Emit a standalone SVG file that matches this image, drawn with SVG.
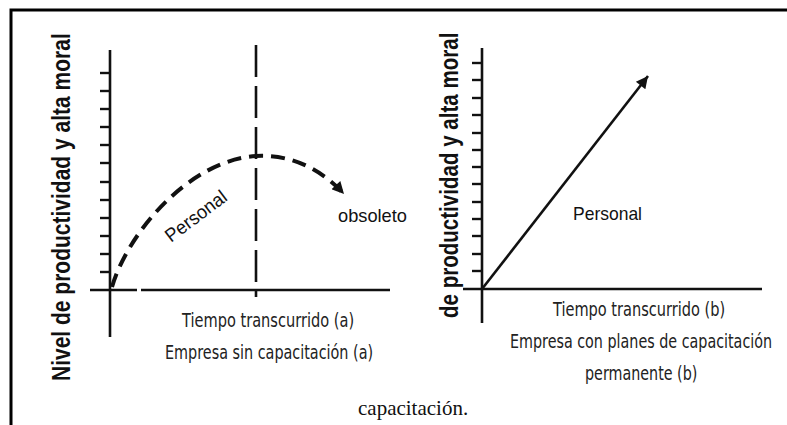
<svg xmlns="http://www.w3.org/2000/svg" width="787" height="425" viewBox="0 0 787 425">
  <style>
    .frame { stroke: #000; stroke-width: 3; fill: none; }
    .axis { stroke: #111; stroke-width: 2.6; fill: none; }
    .tick { stroke: #111; stroke-width: 2.4; }
    .ylab { font-family: "Liberation Sans", Arial, sans-serif; font-weight: bold; font-size: 25px; fill: #111; }
    .cap { font-family: "DejaVu Sans", "Liberation Sans", sans-serif; font-size: 20px; fill: #222; }
    .lbl { font-family: "Liberation Sans", Arial, sans-serif; font-size: 19px; fill: #111; }
    .serif { font-family: "Liberation Serif", "Times New Roman", serif; font-size: 21px; fill: #111; }
  </style>
  <defs>
    <marker id="ah" viewBox="0 0 10 10" refX="10" refY="5" markerUnits="userSpaceOnUse" markerWidth="14" markerHeight="12" orient="auto">
      <path d="M0,0 L10,5 L0,10 z" fill="#111"/>
    </marker>
  </defs>
  <rect width="787" height="425" fill="#fff"/>
  <g id="frame">
    <path class="frame" d="M11,425 L11,10 L787,10"/>
  </g>

  <g id="chart-a">
    <g id="axes-a">
      <line class="axis" x1="110" y1="50" x2="110" y2="337"/>
      <line class="axis" x1="90" y1="290" x2="137" y2="290"/>
      <line class="axis" x1="141" y1="290" x2="390" y2="290"/>
      <g class="tick">
        <line x1="100" y1="73" x2="110" y2="73"/>
        <line x1="100" y1="91" x2="110" y2="91"/>
        <line x1="100" y1="109" x2="110" y2="109"/>
        <line x1="100" y1="127" x2="110" y2="127"/>
        <line x1="100" y1="145" x2="110" y2="145"/>
        <line x1="100" y1="163" x2="110" y2="163"/>
        <line x1="100" y1="182" x2="110" y2="182"/>
        <line x1="100" y1="200" x2="110" y2="200"/>
        <line x1="100" y1="218" x2="110" y2="218"/>
        <line x1="100" y1="236" x2="110" y2="236"/>
        <line x1="100" y1="254" x2="110" y2="254"/>
        <line x1="100" y1="272" x2="110" y2="272"/>
      </g>
    </g>
    <text id="ylab-a" class="ylab" transform="translate(70,381) rotate(-90) scale(0.84,1)" textLength="414" lengthAdjust="spacingAndGlyphs">Nivel de productividad y alta moral</text>
    <text id="personal-a" class="lbl" font-size="20" transform="translate(171,243) rotate(-37)" textLength="72" lengthAdjust="spacingAndGlyphs">Personal</text>
    <text id="obsoleto" class="lbl" x="338" y="222" textLength="69" lengthAdjust="spacingAndGlyphs">obsoleto</text>
    <text id="tiempo-a" class="cap" transform="translate(182,327) scale(0.72,1)" textLength="239" lengthAdjust="spacingAndGlyphs">Tiempo transcurrido (a)</text>
    <text id="empresa-a" class="cap" transform="translate(165,359) scale(0.72,1)" textLength="289" lengthAdjust="spacingAndGlyphs">Empresa sin capacitación (a)</text>
  </g>

  <g id="chart-b">
    <g id="axes-b">
      <line class="axis" x1="482" y1="48" x2="482" y2="323"/>
      <line class="axis" x1="463" y1="289" x2="762" y2="289"/>
      <g class="tick">
        <line x1="472" y1="63" x2="482" y2="63"/>
        <line x1="472" y1="80" x2="482" y2="80"/>
        <line x1="472" y1="98" x2="482" y2="98"/>
        <line x1="472" y1="115" x2="482" y2="115"/>
        <line x1="472" y1="133" x2="482" y2="133"/>
        <line x1="472" y1="150" x2="482" y2="150"/>
        <line x1="472" y1="167" x2="482" y2="167"/>
        <line x1="472" y1="184" x2="482" y2="184"/>
        <line x1="472" y1="202" x2="482" y2="202"/>
        <line x1="472" y1="219" x2="482" y2="219"/>
        <line x1="472" y1="236" x2="482" y2="236"/>
        <line x1="472" y1="254" x2="482" y2="254"/>
        <line x1="472" y1="271" x2="482" y2="271"/>
      </g>
    </g>
    <text id="ylab-b" class="ylab" transform="translate(458,318) rotate(-90) scale(0.82,1)" textLength="348" lengthAdjust="spacingAndGlyphs">de productividad y alta moral</text>
    <text id="personal-b" class="lbl" x="573" y="220" textLength="69" lengthAdjust="spacingAndGlyphs">Personal</text>
    <text id="tiempo-b" class="cap" transform="translate(553,316) scale(0.72,1)" textLength="239" lengthAdjust="spacingAndGlyphs">Tiempo transcurrido (b)</text>
    <text id="empresa-b" class="cap" transform="translate(510,348) scale(0.72,1)" textLength="364" lengthAdjust="spacingAndGlyphs">Empresa con planes de capacitación</text>
    <text id="permanente-b" class="cap" transform="translate(585,380) scale(0.72,1)" textLength="156" lengthAdjust="spacingAndGlyphs">permanente (b)</text>
  </g>

  <g id="connectors">
    <line x1="256" y1="45" x2="256" y2="297" stroke="#111" stroke-width="2.6" stroke-dasharray="32 9"/>
    <path d="M112,287 C128,232 190,160 256,156 C292,154 322,170 344,194" fill="none" stroke="#111" stroke-width="4" stroke-dasharray="14 8" marker-end="url(#ah)"/>
    <path d="M482,289 L648,76" fill="none" stroke="#111" stroke-width="2.6" marker-end="url(#ah)"/>
  </g>

  <text id="caption" class="serif" x="358" y="415">capacitación.</text>
</svg>
